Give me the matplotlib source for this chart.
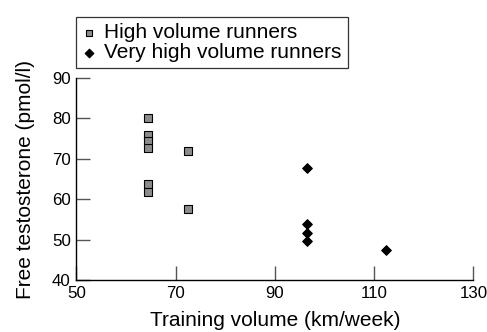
import matplotlib
matplotlib.use("Agg")
import matplotlib.pyplot as plt

plt.rcParams['font.family'] = ['Liberation Sans', 'DejaVu Sans']

high_x = [64.5, 64.5, 64.5, 64.5, 64.5, 64.5, 72.5, 72.5]
high_y = [80.0, 75.9, 74.3, 72.7, 63.8, 61.9, 72.0, 57.5]
vhigh_x = [96.5, 96.5, 96.5, 96.5, 112.5]
vhigh_y = [67.8, 53.8, 51.7, 49.8, 47.5]
x_ticks = [50, 70, 90, 110, 130]
y_ticks = [40, 50, 60, 70, 80, 90]

fig = plt.figure(figsize=(4.87, 3.32), dpi=100)
ax = fig.add_axes([0.1567, 0.1557, 0.8152, 0.6100])

ax.scatter(high_x, high_y, marker='s', s=30, facecolor='#8c8c8c', edgecolor='black',
           linewidth=0.8, label='High volume runners', zorder=3, clip_on=False)
ax.scatter(vhigh_x, vhigh_y, marker='D', s=24, facecolor='black', edgecolor='black',
           linewidth=0.8, label='Very high volume runners', zorder=3, clip_on=False)

ax.set_xlim(50, 130)
ax.set_ylim(40, 90)
ax.set_xticks(x_ticks)
ax.set_yticks(y_ticks)
ax.spines['top'].set_visible(False)
ax.spines['right'].set_visible(False)
for s in ('left', 'bottom'):
    ax.spines[s].set_linewidth(1.0)
ax.tick_params(axis='both', direction='in', length=10, width=1.0, color='#555555',
               labelsize=12.2, pad=4)
ax.set_xlabel('Training volume (km/week)', fontsize=15, labelpad=7)
ax.set_ylabel('Free testosterone (pmol/l)', fontsize=15, labelpad=12)

leg = ax.legend(loc='lower left', bbox_to_anchor=(-0.001, 1.047), fontsize=15,
                frameon=True, fancybox=False, edgecolor='black', borderpad=0.3,
                handletextpad=0.4, handlelength=0.65, labelspacing=0.05,
                borderaxespad=0.0, markerscale=0.9)
leg.get_frame().set_linewidth(0.9)

fig.savefig('out.png', dpi=100)
